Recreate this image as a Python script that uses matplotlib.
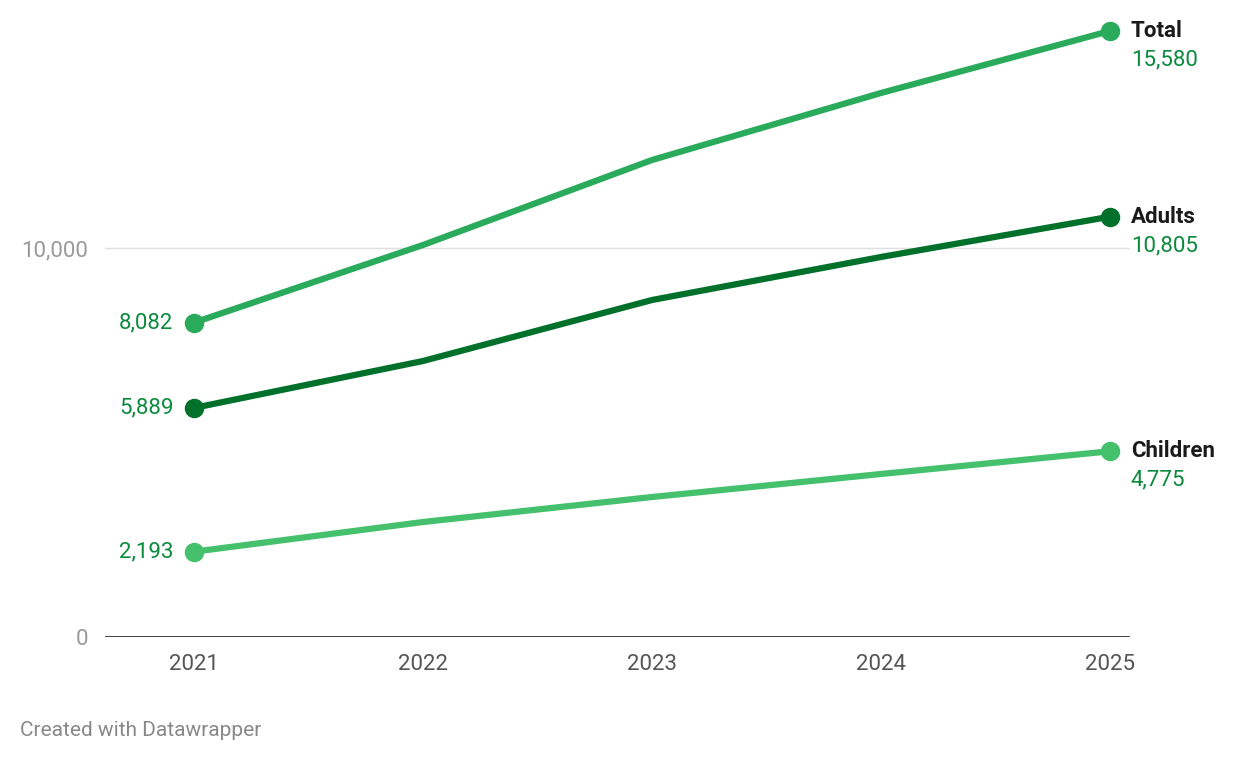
import matplotlib.pyplot as plt

plt.rcParams['font.family'] = ['Roboto', 'DejaVu Sans']

years = [2021, 2022, 2023, 2024, 2025]
total = [8082, 10077, 12262, 13985, 15580]
adults = [5889, 7095, 8663, 9769, 10805]
children = [2193, 2956, 3599, 4190, 4775]

series = [('Total', total, '#2aaa5b'),
          ('Adults', adults, '#00702a'),
          ('Children', children, '#45c06c')]

fig = plt.figure(figsize=(12.4, 7.64), dpi=100)
ax = fig.add_axes([105 / 1240, 1 - 637 / 764, 1025 / 1240, 617 / 764])
ax.set_xlim(2021 - 89 / 229, 2025 + 20 / 229)
ax.set_ylim(0, 617 / 389 * 10000)

for name, vals, col in series:
    ax.plot(years, vals, color=col, lw=4.5, solid_capstyle='round', zorder=3)
    ax.plot([years[0], years[-1]], [vals[0], vals[-1]], 'o', color=col, ms=13, zorder=4)
    ax.text(years[0] - 0.09, vals[0], f'{vals[0]:,}', ha='right', va='center',
            fontsize=16, color='#0a8a3c')
    ax.annotate(name, (years[-1], vals[-1]), xytext=(15, 0), textcoords='offset points',
                ha='left', va='center', fontsize=16, fontweight='bold', color='#1a1a1a',
                annotation_clip=False)
    ax.annotate(f'{vals[-1]:,}', (years[-1], vals[-1]), xytext=(15, -21),
                textcoords='offset points', ha='left', va='center', fontsize=16,
                color='#0a8a3c', annotation_clip=False)

ax.axhline(10000, color='#e0e0e0', lw=1, zorder=1)
ax.axhline(0, color='#222222', lw=1.2, zorder=2)
for s in ax.spines.values():
    s.set_visible(False)
ax.set_xticks(years)
ax.set_xticklabels([str(y) for y in years], fontsize=16, color='#555555')
ax.set_yticks([0, 10000])
ax.set_yticklabels(['0', '10,000'], fontsize=16, color='#999999')
ax.tick_params(length=0, pad=12)
ax.tick_params(axis='y', pad=12)

fig.text(20 / 1240, 1 - 730 / 764, 'Created with Datawrapper', fontsize=15,
         color='#888888', va='center')

fig.savefig('out.png', dpi=100)
